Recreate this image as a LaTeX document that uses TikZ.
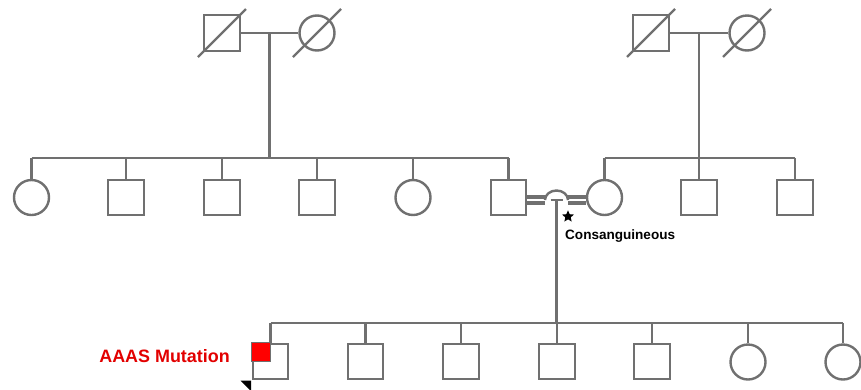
\documentclass[tikz,border=0pt]{standalone}
\usepackage{fontspec}
\setmainfont{Liberation Sans}
\usetikzlibrary{shapes.geometric,calc}
\definecolor{pedline}{RGB}{112,112,112}
\definecolor{mutred}{RGB}{226,0,0}
\tikzset{
  x=1bp, y=-1bp,
  pedigree/.style={draw=pedline, line width=2.4bp},
  male/.style={pedigree, rectangle, minimum size=35.5bp, inner sep=0pt, fill=white},
  female/.style={pedigree, circle, minimum size=35bp, inner sep=0pt, fill=white},
  link/.style={draw=pedline, line width=2.4bp},
  dbl/.style={draw=pedline, double=white, double distance=1.4bp, line width=4.4bp},
  deceased/.style={draw=pedline, line width=2.4bp},
}
\begin{document}
\begin{tikzpicture}
\useasboundingbox (0,0) rectangle (861,389);
\clip (0,0) rectangle (861,389);

% ---- grandparents ----
\node[male]   (gp1) at (222,33) {};
\node[female] (gm1) at (317,33) {};
\node[male]   (gp2) at (651,33) {};
\node[female] (gm2) at (747,33) {};
\foreach \n in {gp1,gm1,gp2,gm2}
  \draw[deceased] ($(\n.center)+(-24,24)$) -- ($(\n.center)+(24,-24)$);

\draw[link] (gp1.east) -- (gm1.west);
\draw[link] (gp2.east) -- (gm2.west);
\coordinate (m1) at ($(gp1.east)!0.5!(gm1.west)$);
\coordinate (m2) at ($(gp2.east)!0.5!(gm2.west)$);

% ---- second generation ----
\node[female] (a1) at (31.5,197.5) {};
\node[male]   (a2) at (126,197.5) {};
\node[male]   (a3) at (222,197.5) {};
\node[male]   (a4) at (317,197.5) {};
\node[female] (a5) at (413,197.5) {};
\node[male]   (a6) at (508.5,197.5) {};
\node[female] (b1) at (604.5,197.5) {};
\node[male]   (b2) at (699,197.5) {};
\node[male]   (b3) at (795,197.5) {};

\coordinate (s2) at (0,158);
\draw[link] (m1) -- (m1 |- s2);
\draw[link] (a1.north |- s2) -- (a6.north |- s2);
\foreach \n in {a1,a2,a3,a4,a5,a6}
  \draw[link] (\n.north) -- (\n.north |- s2);
\draw[link] (m2) -- (m2 |- s2);
\draw[link] (b1.north |- s2) -- (b3.north |- s2);
\foreach \n in {b1,b2,b3}
  \draw[link] (\n.north) -- (\n.north |- s2);

% ---- consanguineous union with line hop ----
\coordinate (hopL) at (545,200);
\coordinate (hopR) at (568,200);
\coordinate (m3) at ($(hopL)!0.5!(hopR)$);
\draw[dbl] (a6.east |- hopL) -- (hopL);
\draw[dbl] (hopR) -- (b1.west |- hopR);
\draw[link] (hopL) arc[start angle=180, end angle=0, x radius=11.5bp, y radius=9.5bp];
\draw[link] ($(m3)+(-6,0)$) -- ($(m3)+(6,0)$);
\node[star, star points=5, star point ratio=2.2, fill=black, minimum size=12.5bp, inner sep=0pt] (cstar) at (568,216.5) {};
\node[anchor=west, inner sep=0pt, font=\bfseries\fontsize{13.6}{16}\selectfont] (clabel) at (565,236) {Consanguineous};

% ---- third generation ----
\node[male]   (p1) at (270.5,361.5) {};
\node[male]   (c2) at (365.5,361.5) {};
\node[male]   (c3) at (461,361.5) {};
\node[male]   (c4) at (557,361.5) {};
\node[male]   (c5) at (652,361.5) {};
\node[female] (c6) at (748,362) {};
\node[female] (c7) at (843,362) {};

\coordinate (s3) at (0,323);
\draw[link] (m3) -- (m3 |- s3);
\draw[link] (p1.north |- s3) -- (c7.north |- s3);
\foreach \n in {p1,c2,c3,c4,c5,c6,c7}
  \draw[link] (\n.north) -- (\n.north |- s3);

% affected quadrant of the proband
\fill[red] ($(p1.center)+(0.8,0.8)$) rectangle ($(p1.center)+(-19,-19)$);
\draw[pedline, line width=1.3bp] ($(p1.center)+(-19,-19)$) rectangle (p1.center);

% proband arrowhead at the lower left corner
\coordinate (ptip) at ($(p1.center)+(-19.5,19)$);
\fill[black] (ptip) -- ++(-10.5,0) -- ++(10.5,10.5) -- cycle;

\node[anchor=east, inner sep=0pt, text=mutred, font=\bfseries\fontsize{18}{21}\selectfont] (mlabel) at (230,356) {AAAS Mutation};
\end{tikzpicture}
\end{document}
